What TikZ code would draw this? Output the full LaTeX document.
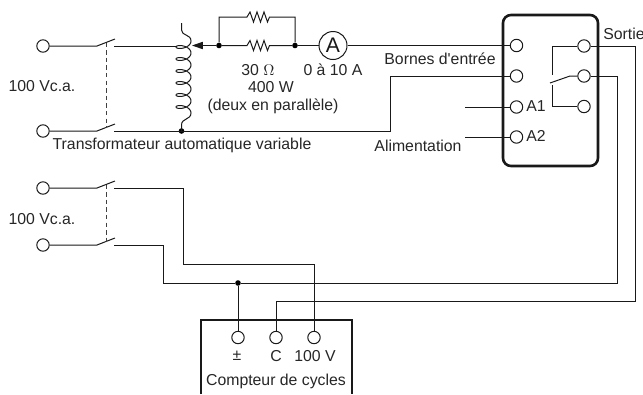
\documentclass[tikz,border=0pt]{standalone}
\usepackage{fontspec}
\setmainfont{Liberation Sans}[Ligatures=TeXOff]
\usetikzlibrary{arrows.meta}
\tikzset{
  wire/.style={line width=0.25mm,black!90},
  term/.style={circle,draw,wire,fill=white,minimum size=3.1mm,inner sep=0pt},
  jointdot/.style={circle,fill=black,minimum size=1.4mm,inner sep=0pt},
  lab/.style={inner sep=0pt,font=\fontsize{11.25}{12}\selectfont,black!85},
  link/.style={wire,black!75,dash pattern=on 1.1mm off 0.8mm},
  frame/.style={line width=0.65mm,black!90},
  resis/.style={to path={-- ++(3,-5) -- ++(3.5,10) -- ++(3.5,-10) -- ++(3.5,10) -- ++(3.5,-10) -- ++(3.5,10) -- ++(2,-5) -- (\tikztotarget)}}
}
\begin{document}
\begin{tikzpicture}[>=stealth,x=0.25mm,y=-0.25mm]
\useasboundingbox (0,0) rectangle (643,394);
% mains, upper pair
\node[term] (src1) at (43,46) {};
\node[term] (src2) at (43,131) {};
\coordinate (sw1a) at (97,46);
\coordinate (sw1b) at (115,39);
\coordinate (sw1c) at (114,46);
\coordinate (sw2a) at (97,131);
\coordinate (sw2b) at (115,124);
\coordinate (sw2c) at (114,131);
\coordinate (lk1) at (106,42.5);
\coordinate (lk2) at (106,127.5);
\draw[wire] (src1) -- (sw1a) -- (sw1b);
\draw[wire] (src2) -- (sw2a) -- (sw2b);
\draw[link] (lk1) -- (lk2);
\node[lab] (v1) at (42,86) {100 Vc.a.};
% variable transformer
\coordinate (coilt) at (181.5,23);
\coordinate (coilb) at (181.5,131);
\coordinate (coilw) at (177,46);
\node[jointdot] (coild) at (181.5,131) {};
\draw[wire] (sw1c) -- (coilw);
\draw[wire] (coilt) -- (181.5,30) .. controls (181.5,36) and (191,34) .. (191,41)
  -- plot[domain=-180:1980,samples=220,smooth] ({183.5-7.5*cos(\x)},{47+\x/30-4*sin(\x)})
  .. controls (191,120) and (181.5,118) .. (181.5,125) -- (coilb);
\node[lab] (tr) at (182,145) {Transformateur automatique variable};
% load resistors and ammeter
\node[jointdot] (j1) at (219,45.5) {};
\node[jointdot] (j2) at (295,45.5) {};
\coordinate (wip) at (192,45.5);
\coordinate (r1a) at (247,45.5);
\coordinate (r1b) at (270,45.5);
\coordinate (r2a) at (247,17);
\coordinate (r2b) at (270,17);
\coordinate (up1) at (219,17);
\coordinate (up2) at (295,17);
\node[circle,draw,wire,fill=white,minimum size=7mm,inner sep=0pt,font=\fontsize{15}{15}\selectfont] (amp) at (333,45.5) {A};
\draw[wire,-{Stealth[length=2.7mm,width=1.8mm,inset=0pt]}] (j1) -- (wip);
\draw[wire] (j1) -- (r1a) to[resis] (r1b) -- (j2);
\draw[wire] (j1) -- (up1) -- (r2a) to[resis] (r2b) -- (up2) -- (j2);
\draw[wire] (j2) -- (amp);
\node[lab] (ohm) at (258,70) {30 $\Omega$};
\node[lab] (pow) at (271,87) {400 W};
\node[lab] (par) at (273,106) {(deux en parallèle)};
\node[lab] (rng) at (333,70) {0 à 10 A};
% relay
\draw[frame,rounded corners=2mm] (503,15) rectangle (598,166);
\node[term] (in1) at (516.5,45.5) {};
\node[term] (in2) at (516.5,76) {};
\node[term] (a1) at (516.5,107) {};
\node[term] (a2) at (516.5,137) {};
\node[term] (out1) at (584,46) {};
\node[term] (out2) at (584,76) {};
\node[term] (out3) at (584,106.5) {};
\coordinate (ct1) at (552,46);
\coordinate (ct2) at (552,75);
\coordinate (ct3) at (552,106.5);
\coordinate (ct4) at (552,85);
\coordinate (bl1) at (550,83);
\coordinate (bl2) at (570,76);
\coordinate (aux1) at (465,107);
\coordinate (aux2) at (465,137);
\coordinate (ret1) at (390,131);
\coordinate (ret2) at (390,76);
\draw[wire] (amp) -- (in1);
\draw[wire] (sw2c) -- (ret1) -- (ret2) -- (in2);
\draw[wire] (aux1) -- (a1);
\draw[wire] (aux2) -- (a2);
\draw[wire] (out1) -- (ct1) -- (ct2);
\draw[wire] (out3) -- (ct3) -- (ct4);
\draw[wire] (bl1) -- (bl2) -- (out2);
\node[lab] (ent) at (440,59) {Bornes d'entrée};
\node[lab] (ali) at (418,146) {Alimentation};
\node[lab,anchor=west] (la1) at (526,106) {A1};
\node[lab,anchor=west] (la2) at (526,136) {A2};
\node[lab,anchor=west] (sor) at (603,34) {Sortie};
% mains, lower pair
\node[term] (src3) at (43,188) {};
\node[term] (src4) at (43,245) {};
\coordinate (sw3a) at (97,188);
\coordinate (sw3b) at (115,181);
\coordinate (sw3c) at (114,188);
\coordinate (sw4a) at (97,245);
\coordinate (sw4b) at (115,238);
\coordinate (sw4c) at (114,245);
\coordinate (lk3) at (106,184.5);
\coordinate (lk4) at (106,241.5);
\draw[wire] (src3) -- (sw3a) -- (sw3b);
\draw[wire] (src4) -- (sw4a) -- (sw4b);
\draw[link] (lk3) -- (lk4);
\node[lab] (v2) at (42,219) {100 Vc.a.};
% cycle counter
\draw[frame] (201,394) -- (201,320) -- (352,320) -- (352,394);
\node[term] (cpm) at (238,337.5) {};
\node[term] (cc) at (276,337.5) {};
\node[term] (cv) at (314,337.5) {};
\node[jointdot] (j3) at (238,283) {};
\coordinate (b1) at (183,188);
\coordinate (b2) at (183,264);
\coordinate (b3) at (314,264);
\coordinate (d1) at (163,245);
\coordinate (d2) at (163,283);
\coordinate (d3) at (617,283);
\coordinate (d4) at (617,76);
\coordinate (e1) at (276,301.5);
\coordinate (e2) at (635,301.5);
\coordinate (e3) at (635,46);
\draw[wire] (sw3c) -- (b1) -- (b2) -- (b3) -- (cv);
\draw[wire] (sw4c) -- (d1) -- (d2) -- (j3) -- (d3) -- (d4) -- (out2);
\draw[wire] (j3) -- (cpm);
\draw[wire] (cc) -- (e1) -- (e2) -- (e3) -- (out1);
\node[lab] (lpm) at (237,356) {±};
\node[lab] (lc) at (276,356) {C};
\node[lab] (lv) at (315,356) {100 V};
\node[lab] (cnt) at (276,381) {Compteur de cycles};
\end{tikzpicture}
\end{document}
